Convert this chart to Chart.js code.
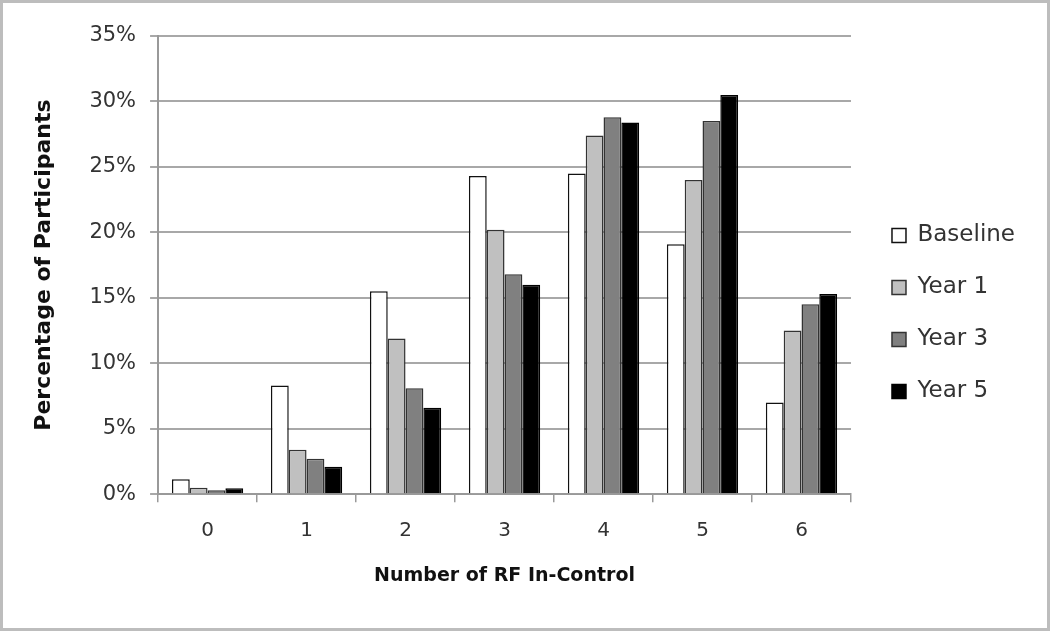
<!DOCTYPE html>
<html>
<head>
<meta charset="utf-8">
<script src="https://cdn.jsdelivr.net/npm/chart.js@4"></script>
<style>
  html, body { margin: 0; padding: 0; background: #fff; }
  #wrap { position: relative; width: 1044px; height: 625px; border: 3px solid #bdbdbd; }
</style>
</head>
<body>
<div id="wrap"><canvas id="barChart"></canvas></div>
<script>
const categories = ["0", "1", "2", "3", "4", "5", "6"];
const baseline = [1.15, 8.3, 15.5, 24.3, 24.5, 19.1, 7.0];
const year1 = [0.5, 3.4, 11.9, 20.2, 27.4, 24.0, 12.5];
const year3 = [0.3, 2.7, 8.1, 16.8, 28.8, 28.5, 14.5];
const year5 = [0.45, 2.1, 6.6, 16.0, 28.4, 30.5, 15.3];

const font = "'DejaVu Sans', sans-serif";

new Chart(document.getElementById("barChart"), {
  type: 'bar',
  data: {
    labels: categories,
    datasets: [{
      label: "Baseline",
      backgroundColor: "#ffffff",
      borderColor: "#111",
      data: baseline
    }, {
      label: "Year 1",
      backgroundColor: "#c0c0c0",
      borderColor: "#333",
      data: year1
    }, {
      label: "Year 3",
      backgroundColor: "#808080",
      borderColor: "#333",
      data: year3
    }, {
      label: "Year 5",
      backgroundColor: "#000000",
      borderColor: "#000",
      data: year5
    }]
  },
  options: {
    responsive: true,
    maintainAspectRatio: false,
    animation: false,
    datasets: {
      bar: {
        borderWidth: 1.5,
        categoryPercentage: 0.72,
        barPercentage: 1.0
      }
    },
    layout: {
      padding: { left: 24, right: 22, top: 33, bottom: 37 }
    },
    plugins: {
      tooltip: { enabled: false },
      legend: {
        position: 'right',
        align: 'center',
        labels: {
          boxWidth: 14,
          boxHeight: 14,
          padding: 29,
          color: "#333",
          font: { family: font, size: 23 }
        }
      }
    },
    scales: {
      x: {
        grid: { display: true, drawOnChartArea: false, offset: true, tickLength: 8, color: "#999", lineWidth: 1.5 },
        border: { color: "#999", width: 2 },
        ticks: { color: "#333", font: { family: font, size: 20 }, padding: 17 },
        title: {
          display: true,
          text: "Number of RF In-Control",
          color: "#111",
          font: { family: font, size: 19, weight: 'bold' },
          padding: { top: 4 }
        }
      },
      y: {
        min: 0,
        max: 35,
        grid: { color: "#a8a8a8", lineWidth: 2, tickLength: 8 },
        border: { color: "#999", width: 2 },
        ticks: {
          stepSize: 5,
          color: "#333",
          font: { family: font, size: 21 },
          padding: 14,
          callback: function (v) { return v + "%"; }
        },
        title: {
          display: true,
          text: "Percentage of Participants",
          color: "#111",
          font: { family: font, size: 22, weight: 'bold' },
          padding: { bottom: 18 }
        }
      },
      gap: {
        position: 'right',
        display: true,
        grid: { display: false },
        border: { display: false },
        ticks: { display: false },
        afterFit: function (s) { s.width = 12; }
      }
    }
  }
});
</script>
</body>
</html>
